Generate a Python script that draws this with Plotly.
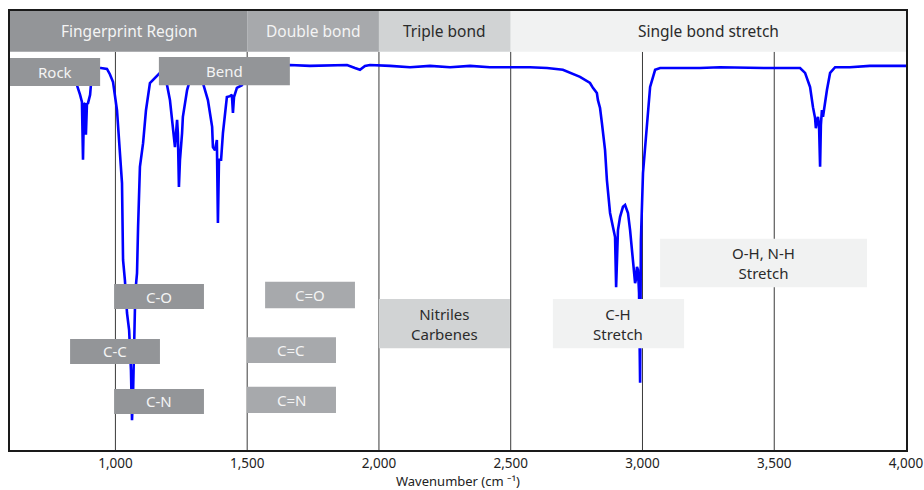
import plotly.graph_objects as go

# IR spectrum: wavenumber (cm^-1) and transmittance (%)
wavenumber = [
    600, 676, 752, 809, 835, 854, 866, 873, 877, 881, 885, 888, 892, 896, 904, 907, 915, 926, 945, 968,
    979, 991, 1006, 1017, 1025, 1029, 1036, 1044, 1052, 1059, 1063, 1067, 1071, 1074, 1078, 1082, 1086,
    1093, 1105, 1116, 1131, 1158, 1169, 1184, 1196, 1207, 1219, 1226, 1234, 1237, 1241, 1245, 1253, 1256,
    1272, 1283, 1306, 1332, 1351, 1367, 1370, 1378, 1385, 1389, 1393, 1401, 1408, 1416, 1423, 1435, 1442,
    1446, 1450, 1461, 1480, 1496, 1518, 1549, 1606, 1662, 1738, 1814, 1879, 1909, 1928, 1947, 1966, 2042,
    2118, 2194, 2270, 2346, 2421, 2509, 2573, 2638, 2698, 2763, 2801, 2812, 2827, 2831, 2839, 2846, 2858,
    2865, 2877, 2888, 2896, 2900, 2904, 2907, 2915, 2926, 2934, 2941, 2945, 2953, 2960, 2968, 2972, 2975,
    2979, 2983, 2987, 2991, 2994, 3002, 3010, 3017, 3029, 3048, 3067, 3142, 3218, 3294, 3408, 3484, 3560,
    3598, 3617, 3636, 3647, 3655, 3658, 3662, 3666, 3670, 3674, 3677, 3681, 3685, 3693, 3700, 3712, 3731,
    3787, 3863, 3939, 4000,
]
transmittance = [
    87.5, 87.5, 87.2, 86.6, 85.4, 83.1, 80.9, 79.3, 66.1, 78.8, 79.0, 71.8, 78.8, 79.0, 80.9, 83.1, 86.1, 87.0, 87.0, 86.8,
    85.6, 83.8, 77.4, 66.1, 60.8, 43.3, 38.7, 31.2, 27.3, 18.2, 6.8, 13.0, 25.1, 31.9, 37.6, 40.3, 50.8,
    64.5, 69.9, 77.4, 83.6, 85.4, 85.9, 85.4, 83.1, 79.7, 73.6, 69.0, 75.2, 72.2, 59.9, 66.1, 72.2, 75.9,
    82.0, 84.3, 85.2, 83.6, 79.7, 73.6, 69.0, 68.3, 70.6, 51.7, 66.1, 66.1, 72.2, 77.4, 80.4, 80.6, 80.9,
    76.8, 80.4, 82.5, 83.1, 84.7, 86.6, 87.2, 87.5, 87.7, 87.5, 87.7, 87.7, 87.0, 86.6, 87.5, 87.7, 87.5,
    87.2, 87.5, 87.2, 87.5, 87.2, 87.2, 87.2, 87.0, 86.6, 85.0, 83.6, 82.5, 81.3, 79.7, 77.9, 74.5, 68.3,
    61.5, 54.0, 50.8, 48.5, 37.1, 48.5, 50.1, 53.1, 55.4, 55.8, 54.7, 54.0, 50.1, 46.2, 40.3, 38.0, 38.7,
    41.7, 41.0, 35.8, 15.3, 47.8, 63.1, 69.5, 74.5, 82.7, 86.6, 87.0, 87.0, 87.0, 87.2, 87.0, 87.0, 87.0,
    87.0, 85.9, 82.7, 78.1, 75.6, 73.3, 74.5, 75.9, 74.0, 64.5, 74.0, 77.4, 75.9, 79.7, 82.0, 85.9, 87.2,
    87.2, 87.5, 87.5, 87.5,
]

# Spectral regions across the top band
region_names = ["Fingerprint Region", "Double bond", "Triple bond", "Single bond stretch"]
region_start = [600, 1500, 2000, 2500]
region_end = [1500, 2000, 2500, 4000]

# Vibration labels
label_texts = ["Rock", "Bend", "C-O", "C-C", "C-N", "C=O", "C=C", "C=N",
               "Nitriles<br>Carbenes", "C-H<br>Stretch", "O-H, N-H<br>Stretch"]

tick_values = [1000, 1500, 2000, 2500, 3000, 3500, 4000]
tick_labels = ["1,000", "1,500", "2,000", "2,500", "3,000", "3,500", "4,000"]
x_title = "Wavenumber (cm \u207b\u00b9)"

# Styling
DARK = "#939598"
MID = "#a7a9ac"
LIGHT = "#d1d3d4"
PALE = "#f1f2f2"
TEXT_LIGHT = "#f4f4f4"
TEXT_DARK = "#2b2b2b"
FONT = "Noto Sans"

region_fill = [DARK, MID, LIGHT, PALE]
region_text = [TEXT_LIGHT, TEXT_LIGHT, TEXT_DARK, TEXT_DARK]
band_bottom, band_top = 90.7, 100.0

# (x0, x1, y0, y1, fill, text colour) for each vibration label
label_boxes = [
    (600, 942, 82.9, 89.3, DARK, TEXT_LIGHT),
    (1165, 1662, 83.1, 89.5, DARK, TEXT_LIGHT),
    (995, 1336, 32.1, 37.8, DARK, TEXT_LIGHT),
    (828, 1169, 19.6, 25.3, DARK, TEXT_LIGHT),
    (995, 1336, 8.2, 13.9, DARK, TEXT_LIGHT),
    (1568, 1909, 32.3, 38.3, MID, TEXT_LIGHT),
    (1499, 1837, 19.8, 25.7, MID, TEXT_LIGHT),
    (1499, 1837, 8.4, 14.4, MID, TEXT_LIGHT),
    (2000, 2497, 23.2, 34.4, LIGHT, TEXT_DARK),
    (2660, 3158, 23.2, 34.4, PALE, TEXT_DARK),
    (3067, 3852, 37.1, 48.1, PALE, TEXT_DARK),
]

fig = go.Figure()
fig.add_trace(go.Scatter(
    x=wavenumber, y=transmittance, mode="lines",
    line=dict(color="#0000ff", width=2.6), hoverinfo="skip", showlegend=False,
))

shapes = []
annotations = []

# Vertical guide lines at each 500 cm^-1
for v in tick_values[:-1]:
    shapes.append(dict(type="line", xref="x", yref="y", x0=v, x1=v, y0=0, y1=band_bottom,
                       line=dict(color="#3a3a3a", width=1), layer="below"))

# Region header band
for name, x0, x1, fill, tc in zip(region_names, region_start, region_end, region_fill, region_text):
    shapes.append(dict(type="rect", xref="x", yref="y", x0=x0, x1=x1, y0=band_bottom, y1=band_top,
                       fillcolor=fill, line=dict(width=0), layer="above"))
    annotations.append(dict(x=(x0 + x1) / 2, y=(band_bottom + band_top) / 2, xref="x", yref="y",
                            text=name, showarrow=False, font=dict(family=FONT, size=15.5, color=tc)))

# Vibration label boxes
for text, (x0, x1, y0, y1, fill, tc) in zip(label_texts, label_boxes):
    shapes.append(dict(type="rect", xref="x", yref="y", x0=x0, x1=x1, y0=y0, y1=y1,
                       fillcolor=fill, line=dict(width=0), layer="above"))
    annotations.append(dict(x=(x0 + x1) / 2, y=(y0 + y1) / 2, xref="x", yref="y",
                            text=text, showarrow=False,
                            font=dict(family=FONT, size=15, color=tc)))

# Axis title below the tick labels
annotations.append(dict(x=0.5, y=-0.0706, xref="paper", yref="paper", yanchor="middle",
                        text=x_title, showarrow=False,
                        font=dict(family=FONT, size=13, color="#222")))

fig.update_layout(
    width=924, height=490,
    margin=dict(l=10, r=18, t=11, b=40),
    paper_bgcolor="white", plot_bgcolor="white",
    shapes=shapes, annotations=annotations,
    xaxis=dict(
        range=[600, 4000], tickvals=tick_values, ticktext=tick_labels,
        showgrid=False, zeroline=False, ticks="", automargin=False,
        showline=True, mirror=True, linecolor="#1a1a1a", linewidth=1.5,
        tickfont=dict(family=FONT, size=13.5, color="#222"),
    ),
    yaxis=dict(
        range=[0, 100], showticklabels=False, showgrid=False, zeroline=False, ticks="",
        automargin=False,
        showline=True, mirror=True, linecolor="#1a1a1a", linewidth=1.5,
    ),
)

fig.write_html("out.html")
